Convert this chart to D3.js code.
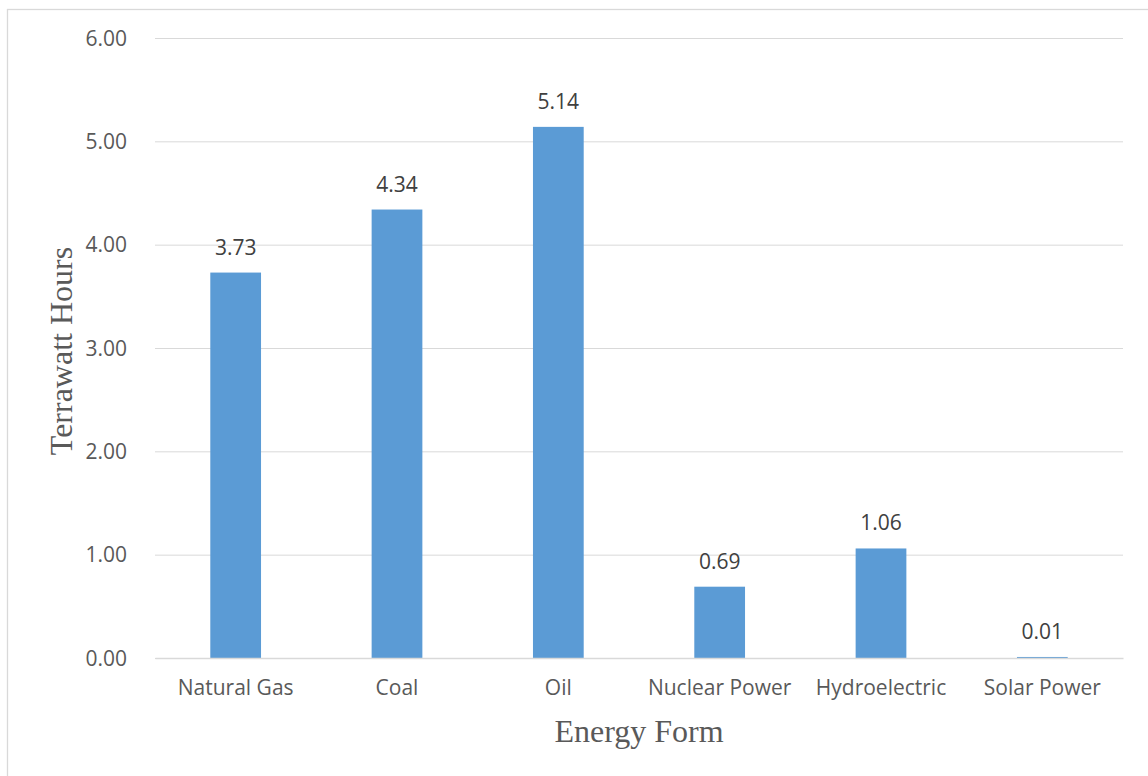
<!DOCTYPE html>
<html>
<head>
<meta charset="utf-8">
<script src="https://cdn.jsdelivr.net/npm/d3@7"></script>
<style>
  html, body { margin: 0; padding: 0; background: #fff; }
  svg { display: block; }
</style>
</head>
<body>
<svg id="chart" width="1148" height="776"></svg>
<script>
// Energy consumption by form (terawatt hours)
const categories = ["Natural Gas", "Coal", "Oil", "Nuclear Power", "Hydroelectric", "Solar Power"];
const values = [3.73, 4.34, 5.14, 0.69, 1.06, 0.01];
const yTicks = [0, 1, 2, 3, 4, 5, 6];
const xTitle = "Energy Form";
const yTitle = "Terrawatt Hours";

const svg = d3.select("#chart");
const plot = { left: 155, right: 1123, top: 38, bottom: 658 };

// outer chart frame
svg.append("rect")
  .attr("x", 7.5).attr("y", 9.5)
  .attr("width", 1160).attr("height", 800)
  .attr("fill", "none").attr("stroke", "#d9d9d9").attr("stroke-width", 1.3);

const x = d3.scaleBand().domain(categories).range([plot.left, plot.right]).padding(0);
const y = d3.scaleLinear().domain([0, 6]).range([plot.bottom, plot.top]);
const barW = x.bandwidth() / 3.18;

// horizontal gridlines
const yAxis = d3.axisLeft(y).tickValues(yTicks).tickSize(-(plot.right - plot.left))
  .tickFormat(d3.format(".2f")).tickPadding(28);
const gy = svg.append("g").attr("transform", `translate(${plot.left},0)`).call(yAxis);
gy.select(".domain").remove();
gy.selectAll(".tick line").attr("stroke", "#d9d9d9").attr("stroke-width", 1);
gy.selectAll(".tick text")
  .attr("font-family", "'Open Sans', sans-serif").attr("font-size", 21)
  .attr("fill", "#595959").attr("dy", "0.34em");

// bars
svg.append("g").selectAll("rect").data(values).join("rect")
  .attr("x", (d, i) => x(categories[i]) + x.bandwidth() / 2 - barW / 2)
  .attr("y", d => y(d))
  .attr("width", barW)
  .attr("height", d => y(0) - y(d))
  .attr("fill", "#5b9bd5");

// baseline axis
const xAxis = d3.axisBottom(x).tickSize(0).tickPadding(22);
const gx = svg.append("g").attr("transform", `translate(0,${plot.bottom})`).call(xAxis);
gx.select(".domain").attr("stroke", "#d9d9d9").attr("stroke-width", 1.3);
gx.selectAll(".tick text")
  .attr("font-family", "'Open Sans', sans-serif").attr("font-size", 21)
  .attr("fill", "#595959");

// value labels
svg.append("g").selectAll("text").data(values).join("text")
  .attr("x", (d, i) => x(categories[i]) + x.bandwidth() / 2)
  .attr("y", d => y(d) - 18)
  .attr("text-anchor", "middle")
  .attr("font-family", "'Open Sans', sans-serif").attr("font-size", 21)
  .attr("fill", "#404040")
  .text(d => d3.format(".2f")(d));

// axis titles
svg.append("text")
  .attr("x", (plot.left + plot.right) / 2).attr("y", 742)
  .attr("text-anchor", "middle")
  .attr("font-family", "'Liberation Serif', 'Times New Roman', serif").attr("font-size", 32)
  .attr("fill", "#595959")
  .text(xTitle);

svg.append("text")
  .attr("transform", `translate(72,${(plot.top + plot.bottom) / 2 + 3}) rotate(-90)`)
  .attr("text-anchor", "middle")
  .attr("font-family", "'Liberation Serif', 'Times New Roman', serif").attr("font-size", 32)
  .attr("fill", "#595959")
  .text(yTitle);
</script>
</body>
</html>
